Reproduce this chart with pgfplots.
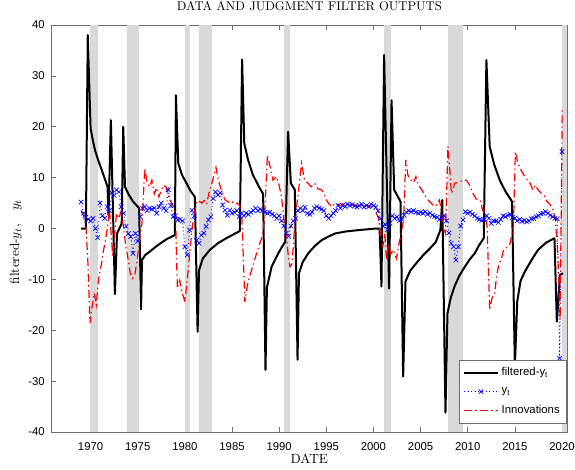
\documentclass[border=0pt]{standalone}
\usepackage{fontspec}
\usepackage{pgfplots}
\pgfplotsset{compat=1.18}
\newfontfamily\arial{Liberation Sans}
\definecolor{recgray}{RGB}{217,217,217}
\definecolor{axgray}{RGB}{110,110,110}
\begin{document}
\begin{tikzpicture}
\begin{axis}[
  at={(0,0)}, anchor=south west, scale only axis,
  width=387.5pt, height=305.25pt,
  xmin=1965.8, xmax=2020.6, ymin=-40, ymax=40,
  xtick={1970,1975,...,2020}, ytick={-40,-30,...,40},
  tick align=inside, tick pos=both, major tick length=3.5pt,
  axis line style={axgray}, tick style={axgray, line width=0.4pt},
  ticklabel style={font=\arial\fontsize{8.5}{10}\selectfont},
  /pgf/number format/assume math mode=true,
  /pgf/number format/1000 sep={},
  xticklabel style={anchor=base, yshift=-13.5pt, inner sep=0pt},
  yticklabel style={anchor=east, xshift=-4.5pt, inner sep=0pt},
  xlabel={DATE},
  xlabel style={at={(rel axis cs:0.5,0)}, anchor=base, yshift=-23.25pt, font=\fontsize{10}{12}\selectfont},
  ylabel={filtered-$y_t$,\quad $y_t$},
  ylabel style={at={(rel axis cs:-0.0684,0.467)}, anchor=center, font=\fontsize{10}{12}\selectfont},
  title={DATA AND JUDGMENT FILTER OUTPUTS},
  title style={at={(rel axis cs:0.5,1)}, anchor=base, yshift=5pt, font=\fontsize{9.5}{11}\selectfont},
  legend style={at={(rel axis cs:0.998,0.021)}, anchor=south east,
    font=\arial\fontsize{8.5}{10}\selectfont, draw=axgray, row sep=3.5pt,
    inner xsep=3pt, inner ysep=3.5pt},
  legend cell align=left,
  legend image code/.code={\draw[mark repeat=2,mark phase=2,#1] plot coordinates {(0cm,0cm) (0.45cm,0cm) (0.9cm,0cm)};},
]
% recession shading
\addplot[draw=none, fill=recgray, forget plot] coordinates {(1969.92,-40) (1969.92,40) (1970.83,40) (1970.83,-40)} -- cycle;
\addplot[draw=none, fill=recgray, forget plot] coordinates {(1973.88,-40) (1973.88,40) (1975.17,40) (1975.17,-40)} -- cycle;
\addplot[draw=none, fill=recgray, forget plot] coordinates {(1980.0,-40) (1980.0,40) (1980.5,40) (1980.5,-40)} -- cycle;
\addplot[draw=none, fill=recgray, forget plot] coordinates {(1981.5,-40) (1981.5,40) (1982.88,40) (1982.88,-40)} -- cycle;
\addplot[draw=none, fill=recgray, forget plot] coordinates {(1990.5,-40) (1990.5,40) (1991.17,40) (1991.17,-40)} -- cycle;
\addplot[draw=none, fill=recgray, forget plot] coordinates {(2001.17,-40) (2001.17,40) (2001.83,40) (2001.83,-40)} -- cycle;
\addplot[draw=none, fill=recgray, forget plot] coordinates {(2007.92,-40) (2007.92,40) (2009.5,40) (2009.5,-40)} -- cycle;
\addplot[draw=none, fill=recgray, forget plot] coordinates {(2020.0,-40) (2020.0,40) (2020.5,40) (2020.5,-40)} -- cycle;

% filtered-y_t
\addplot[black, line width=1.5pt, line join=round] table {
1969.0 0
1969.5 0
1969.7 38.0
1970.0 19.7
1970.25 17.2
1970.5 15.2
1970.85 13.2
1971.2 11.4
1971.5 9.8
1971.8 8.2
1971.9 2.6
1972.15 21.3
1972.58 -12.9
1972.8 -1.0
1973.3 1.0
1973.46 20.0
1973.65 8.2
1974.0 6.8
1974.5 5.3
1975.15 4.0
1975.35 -15.9
1975.45 -6.2
1975.8 -5.2
1976.3 -4.5
1976.9 -3.6
1977.5 -2.8
1978.06 -2.1
1978.94 -1.3
1979.05 26.2
1979.3 12.8
1979.7 10.5
1980.2 8.8
1980.6 7.4
1981.06 6.2
1981.35 -20.3
1981.5 -8.2
1981.9 -5.9
1982.65 -4.2
1983.5 -2.9
1984.4 -1.9
1985.83 -0.5
1986.07 33.2
1986.3 16.7
1986.7 13.5
1987.2 10.6
1987.8 8.4
1988.3 6.8
1988.55 -27.8
1988.7 -11.6
1989.2 -7.5
1989.9 -4.9
1990.5 -3.0
1990.65 -2.6
1990.95 19.0
1991.24 8.9
1991.66 7.6
1991.95 -25.8
1992.1 -8.8
1992.5 -6.6
1993.07 -4.9
1993.8 -3.4
1994.5 -2.3
1995.2 -1.6
1995.9 -1.0
1997.0 -0.6
1998.5 -0.3
2000.3 0.0
2000.65 0.0
2000.85 -11.4
2001.13 34.1
2001.66 -11.8
2001.92 25.2
2002.2 7.6
2002.87 5.3
2003.15 -29.1
2003.4 -10.4
2003.9 -8.3
2004.55 -6.8
2005.3 -5.2
2006.0 -3.9
2006.6 -2.7
2007.1 -0.3
2007.3 5.6
2007.64 -36.2
2007.85 -16.7
2008.2 -13.6
2008.6 -11.4
2009.1 -9.3
2009.7 -7.5
2010.2 -6.1
2010.74 -4.9
2011.2 -3.3
2011.7 -1.9
2011.98 33.1
2012.33 16.1
2012.8 12.6
2013.4 9.5
2014.0 7.3
2014.7 5.3
2015.0 -27.2
2015.25 -14.4
2015.6 -10.3
2016.05 -8.5
2016.9 -5.8
2017.46 -4.2
2018.3 -2.8
2019.2 -1.9
2019.45 -18.3
2019.8 -9.1
2020.1 -8.8
};
\addlegendentry{filtered-y\textsubscript{t}}

% y_t
\addplot[blue, dotted, line width=0.7pt, mark=x, mark size=2.4pt, mark options={solid, line width=0.5pt}] table {
1969.00 5.2
1969.25 3.0
1969.50 2.2
1969.75 1.8
1970.00 1.5
1970.25 2.0
1970.50 0.0
1970.75 -1.8
1971.00 5.0
1971.25 2.5
1971.50 2.0
1971.75 4.3
1972.00 3.5
1972.25 7.0
1972.50 6.5
1972.75 7.6
1973.00 7.2
1973.25 4.3
1973.50 3.0
1973.75 0.4
1974.00 -1.0
1974.25 -1.6
1974.50 -4.9
1974.75 -1.0
1975.00 -2.5
1975.25 2.3
1975.50 4.0
1975.75 4.3
1976.00 3.5
1976.25 4.0
1976.50 3.8
1976.75 4.0
1977.00 3.0
1977.25 4.3
1977.50 5.0
1977.75 4.0
1978.00 3.5
1978.25 7.6
1978.50 4.5
1978.75 2.3
1979.00 2.5
1979.25 1.7
1979.50 1.8
1979.75 1.5
1980.00 -3.6
1980.25 -5.2
1980.50 -0.3
1980.75 3.6
1981.00 2.5
1981.25 -2.3
1981.50 -2.9
1981.75 -1.3
1982.00 -0.9
1982.25 0.4
1982.50 1.7
1982.75 2.3
1983.00 5.9
1983.25 7.2
1983.50 6.6
1983.75 7.0
1984.00 4.6
1984.25 3.6
1984.50 2.6
1984.75 3.6
1985.00 3.0
1985.25 3.2
1985.50 3.5
1985.75 2.3
1986.00 3.0
1986.25 2.5
1986.50 3.0
1986.75 2.8
1987.00 3.2
1987.25 3.5
1987.50 4.0
1987.75 3.5
1988.00 3.8
1988.25 3.5
1988.50 3.2
1988.75 3.0
1989.00 3.2
1989.25 2.8
1989.50 2.5
1989.75 2.0
1990.00 2.5
1990.25 1.5
1990.50 0.5
1990.75 -0.9
1991.00 -1.5
1991.25 0.5
1991.50 1.5
1991.75 2.0
1992.00 3.5
1992.25 4.0
1992.50 3.5
1992.75 4.2
1993.00 3.0
1993.25 2.8
1993.50 3.2
1993.75 4.0
1994.00 4.3
1994.25 4.0
1994.50 3.8
1994.75 3.5
1995.00 2.5
1995.25 2.0
1995.50 2.5
1995.75 3.0
1996.00 3.5
1996.25 4.5
1996.50 4.0
1996.75 4.5
1997.00 4.3
1997.25 4.8
1997.50 4.5
1997.75 4.7
1998.00 4.4
1998.25 4.2
1998.50 4.5
1998.75 4.8
1999.00 4.2
1999.25 4.5
1999.50 4.3
1999.75 4.8
2000.00 4.5
2000.25 4.2
2000.50 3.5
2000.75 2.0
2001.00 0.5
2001.25 0.8
2001.50 -0.2
2001.75 1.0
2002.00 2.5
2002.25 2.0
2002.50 2.3
2002.75 1.5
2003.00 1.8
2003.25 2.6
2003.50 3.2
2003.75 3.5
2004.00 3.3
2004.25 3.5
2004.50 3.2
2004.75 3.0
2005.00 3.2
2005.25 3.0
2005.50 3.3
2005.75 2.8
2006.00 3.0
2006.25 2.6
2006.50 2.4
2006.75 2.2
2007.00 1.8
2007.25 2.2
2007.50 2.5
2007.75 1.5
2008.00 -0.9
2008.25 -2.9
2008.50 -3.6
2008.75 -6.2
2009.00 -3.6
2009.25 0.5
2009.50 1.7
2009.75 3.3
2010.00 3.0
2010.25 3.2
2010.50 2.8
2010.75 2.5
2011.00 2.0
2011.25 1.8
2011.50 1.6
2011.75 1.7
2012.00 2.5
2012.25 2.0
2012.50 1.0
2012.75 1.5
2013.00 1.5
2013.25 1.2
2013.50 1.8
2013.75 2.5
2014.00 2.3
2014.25 2.6
2014.50 2.8
2014.75 2.2
2015.00 2.0
2015.25 1.5
2015.50 1.8
2015.75 1.4
2016.00 1.6
2016.25 1.3
2016.50 1.5
2016.75 1.9
2017.00 2.0
2017.25 2.3
2017.50 2.5
2017.75 2.9
2018.00 3.0
2018.25 3.3
2018.50 3.0
2018.75 2.6
2019.00 2.3
2019.25 2.0
2019.50 1.9
2019.75 -25.5
2020.00 15.1
};
\addlegendentry{y\textsubscript{t}}

% Innovations
\addplot[red, line width=0.9pt, dash pattern=on 6pt off 2.5pt on 1pt off 2.5pt] table {
1969.0 3.5
1969.25 2.5
1969.5 0.5
1969.7 -6
1969.93 -18.6
1970.15 -15.5
1970.4 -12.7
1970.6 -15.0
1970.85 -9.8
1971.1 -7.5
1971.35 -4.5
1971.6 -2.0
1971.85 1.0
1972.0 4.0
1972.15 -0.3
1972.35 -5.5
1972.55 -1.0
1972.75 3.0
1973.0 2.0
1973.25 3.5
1973.5 0.0
1973.75 -3.6
1974.0 -6.2
1974.2 -8.8
1974.45 -9.8
1974.7 -9.0
1974.95 -6.0
1975.2 -2.0
1975.45 1.0
1975.75 11.8
1976.0 9.0
1976.25 8.2
1976.5 9.5
1976.75 6.8
1977.0 8.0
1977.25 6.2
1977.5 7.6
1977.75 8.5
1978.0 8.2
1978.25 6.5
1978.5 5.3
1978.75 4.5
1979.0 3.0
1979.2 -11.8
1979.45 -10.2
1979.7 -12.5
1980.0 -14.4
1980.2 -11.0
1980.35 -8.2
1980.55 -4.2
1980.8 0.5
1981.05 3.5
1981.3 5.5
1981.55 5.3
1981.8 5.0
1982.05 5.5
1982.3 4.8
1982.55 6.9
1982.8 8.5
1983.05 10.2
1983.3 12.0
1983.55 9.5
1983.8 8.0
1984.05 6.5
1984.3 5.5
1984.55 5.3
1984.8 5.0
1985.05 5.2
1985.3 4.8
1985.55 5.0
1985.8 4.5
1986.05 2.0
1986.36 -14.4
1986.6 -11.4
1986.85 -9.5
1987.07 -8.2
1987.35 -6.5
1987.6 -4.9
1987.95 -2.9
1988.2 -1.6
1988.45 2.0
1988.75 14.4
1989.0 12.5
1989.35 9.5
1989.7 10.2
1990.0 8.5
1990.25 6.2
1990.5 1.7
1990.78 -1.6
1991.0 -6.0
1991.15 -7.5
1991.35 -7.0
1991.5 -3.6
1991.66 1.7
1992.0 6.5
1992.37 12.8
1992.7 9.5
1993.0 9.0
1993.4 8.2
1993.8 8.8
1994.1 7.8
1994.5 7.6
1994.75 6.9
1995.0 5.6
1995.3 4.8
1995.6 4.3
1995.9 5.0
1996.2 4.7
1996.5 4.5
1996.8 5.0
1997.1 4.9
1997.4 4.5
1997.7 4.8
1998.0 4.6
1998.3 4.4
1998.6 4.7
1998.9 4.3
1999.2 4.6
1999.5 4.5
1999.8 4.2
2000.0 4.3
2000.3 3.0
2000.55 2.0
2000.8 -2.0
2001.0 -3.5
2001.2 -1.0
2001.4 -6.2
2001.6 -3.0
2001.85 -5.0
2002.1 -4.2
2002.45 -5.9
2002.7 -3.0
2002.95 -1.0
2003.2 2.0
2003.43 13.5
2003.65 10.5
2004.0 9.5
2004.25 9.0
2004.5 10.2
2004.75 8.5
2005.0 8.0
2005.3 7.0
2005.55 6.2
2005.8 5.6
2006.1 5.0
2006.5 4.3
2006.75 4.8
2007.0 5.6
2007.25 3.0
2007.45 0.2
2007.65 -1.0
2007.9 16.1
2008.1 11.5
2008.27 6.9
2008.45 7.5
2008.6 8.9
2008.9 9.0
2009.2 9.2
2009.5 9.5
2009.87 9.5
2010.2 8.5
2010.56 6.9
2010.9 5.8
2011.3 5.6
2011.6 3.5
2011.85 3.0
2012.05 0.5
2012.33 -16.0
2012.6 -13.5
2012.87 -12.7
2013.05 -9.5
2013.3 -7.0
2013.57 -6.0
2013.8 -4.2
2014.1 -3.8
2014.45 -3.2
2014.64 -1.6
2014.85 0.5
2015.05 15.1
2015.3 13.0
2015.5 12.1
2015.8 11.0
2016.05 10.2
2016.35 9.5
2016.6 9.0
2016.9 7.6
2017.15 8.5
2017.5 7.5
2017.8 6.9
2018.1 6.5
2018.4 5.3
2018.7 4.8
2018.87 4.3
2019.1 3.5
2019.3 1.7
2019.55 -4.9
2019.8 -18.0
2020.02 23.5
};
\addlegendentry{Innovations}
\end{axis}
\pgfresetboundingbox
\path[use as bounding box] (-38.25pt,-27.75pt) rectangle (393pt,324pt);
\end{tikzpicture}
\end{document}
